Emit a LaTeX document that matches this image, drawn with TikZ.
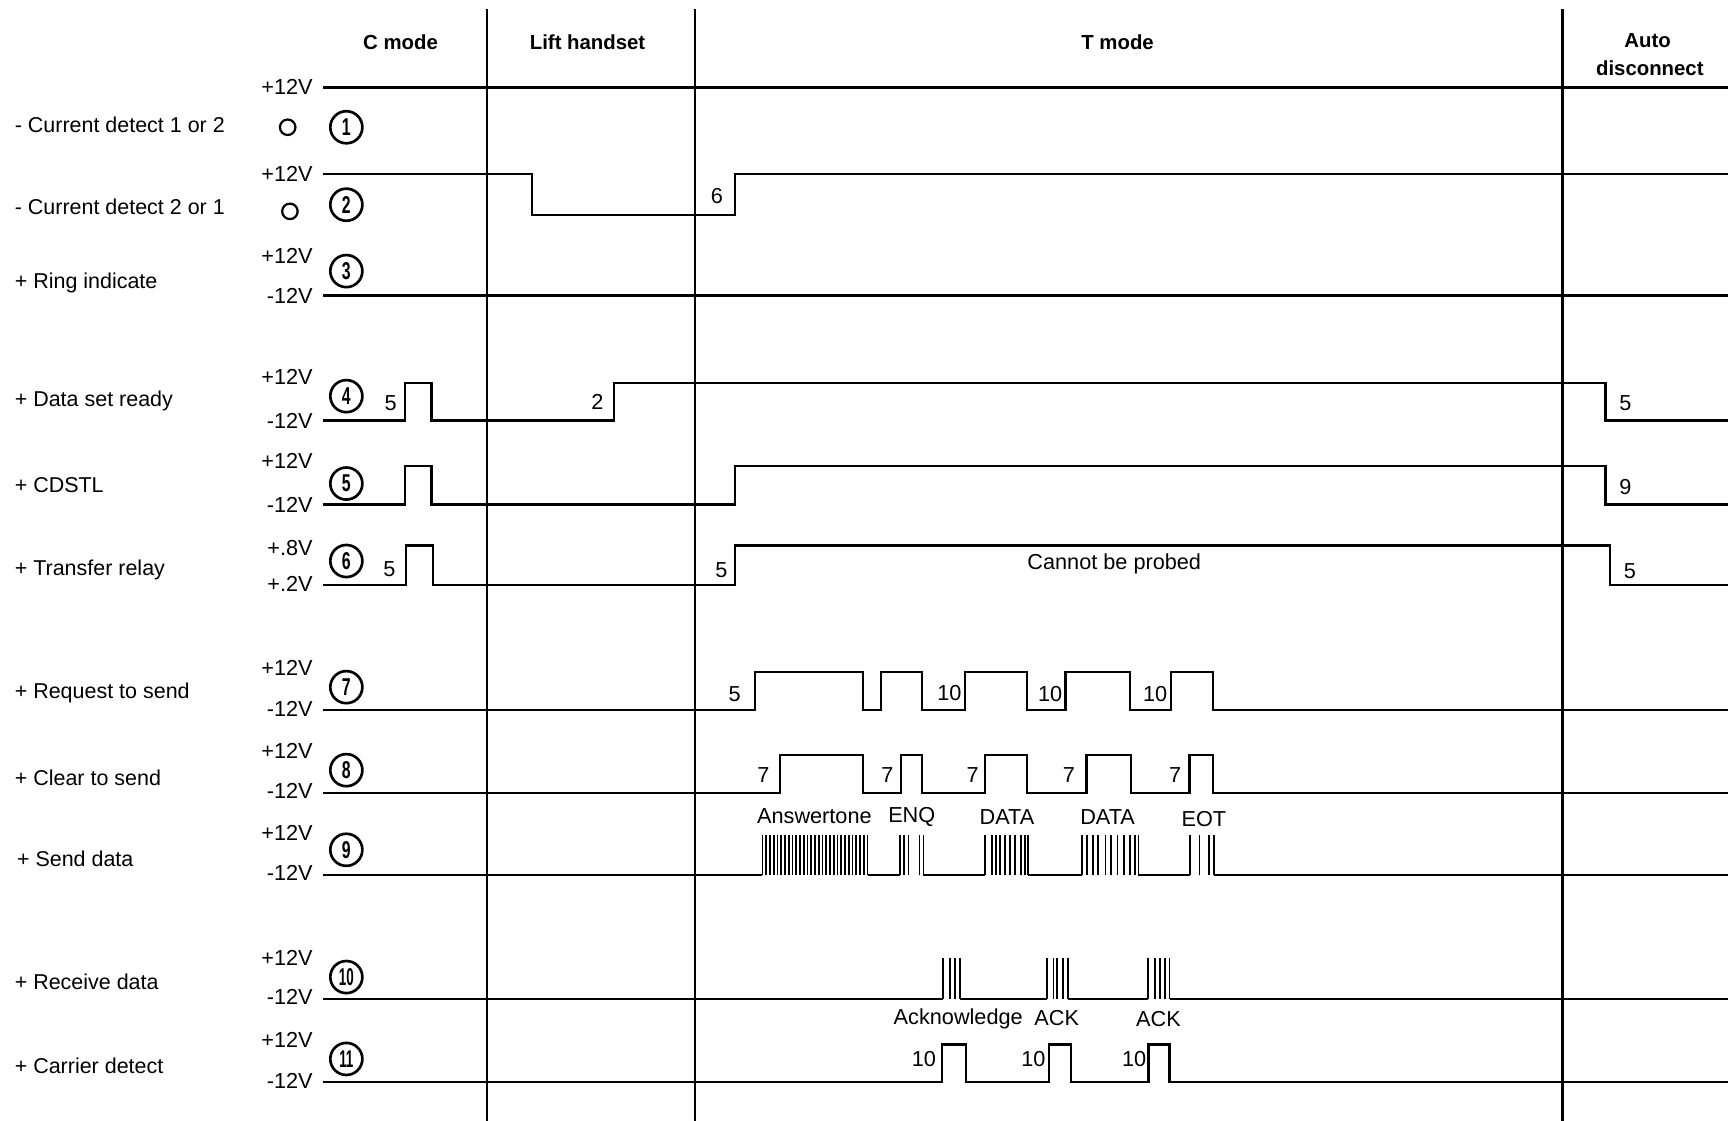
\documentclass[tikz,border=0pt]{standalone}
\usepackage{fontspec}
\usepackage{graphicx}
\setmainfont{Liberation Sans}
\begin{document}
\begin{tikzpicture}[x=0.5pt,y=-0.5pt,
  sig/.style={line width=1pt, line join=miter},
  sep/.style={line width=1.1pt},
  burst/.style={line width=0.8pt},
  lbl/.style={anchor=west, font=\fontsize{9.7}{11}\selectfont, inner sep=0pt},
  volt/.style={anchor=east, font=\fontsize{9.8}{11}\selectfont, inner sep=0pt},
  num/.style={font=\fontsize{9.8}{11}\selectfont, inner sep=0pt},
  hdr/.style={font=\bfseries\fontsize{9.2}{11}\selectfont, inner sep=0pt},
  cnum/.style={circle, draw, line width=1.2pt, minimum size=14.5pt, inner sep=0pt, font=\bfseries\fontsize{11}{12}\selectfont},
  ring/.style={circle, draw, line width=1pt, minimum size=7pt, inner sep=0pt}]

\useasboundingbox (0,0) rectangle (1568,1013);

% separators
\draw[sep] (440,8) -- (440,1013);
\draw[sep] (628,8) -- (628,1013);
\draw[sep] (1412,8) -- (1412,1013);

% headers
\node[hdr] (hC) at (362,38) {C mode};
\node[hdr] (hL) at (531,38) {Lift handset};
\node[hdr] (hT) at (1010,38) {T mode};
\node[hdr] (hA1) at (1489,37) {Auto};
\node[hdr] (hA2) at (1491,62) {disconnect};

% signal names
\node[lbl] (n1) at (13,113) {- Current detect 1 or 2};
\node[lbl] (n2) at (13,187) {- Current detect 2 or 1};
\node[lbl] (n3) at (13,256) {+ Ring indicate};
\node[lbl] (n4) at (13,362) {+ Data set ready};
\node[lbl] (n5) at (13,438) {+ CDSTL};
\node[lbl] (n6) at (13,515) {+ Transfer relay};
\node[lbl] (n7) at (13,626) {+ Request to send};
\node[lbl] (n8) at (13,703) {+ Clear to send};
\node[lbl] (n9) at (15,776) {+ Send data};
\node[lbl] (n10) at (13,887) {+ Receive data};
\node[lbl] (n11) at (13,963) {+ Carrier detect};

% rings
\node[ring] (o1) at (260,115) {};
\node[ring] (o2) at (262,191) {};

% voltage labels
\node[volt] (v1) at (283,79) {+12V};
\node[volt] (v2) at (283,157) {+12V};
\node[volt] (v3h) at (283,231) {+12V};
\node[volt] (v3l) at (283,267) {-12V};
\node[volt] (v4h) at (283,341) {+12V};
\node[volt] (v4l) at (283,380) {-12V};
\node[volt] (v5h) at (283,417) {+12V};
\node[volt] (v5l) at (283,456) {-12V};
\node[volt] (v6h) at (283,495) {+.8V};
\node[volt] (v6l) at (283,528) {+.2V};
\node[volt] (v7h) at (283,604) {+12V};
\node[volt] (v7l) at (283,641) {-12V};
\node[volt] (v8h) at (283,679) {+12V};
\node[volt] (v8l) at (283,715) {-12V};
\node[volt] (v9h) at (283,753) {+12V};
\node[volt] (v9l) at (283,789) {-12V};
\node[volt] (v10h) at (283,866) {+12V};
\node[volt] (v10l) at (283,901) {-12V};
\node[volt] (v11h) at (283,940) {+12V};
\node[volt] (v11l) at (283,977) {-12V};

% circled numbers
\node[cnum] (c1) at (313,115) {\scalebox{0.65}[1]{1}};
\node[cnum] (c2) at (313,185) {\scalebox{0.65}[1]{2}};
\node[cnum] (c3) at (313,245) {\scalebox{0.65}[1]{3}};
\node[cnum] (c4) at (313,358) {\scalebox{0.65}[1]{4}};
\node[cnum] (c5) at (313,437) {\scalebox{0.65}[1]{5}};
\node[cnum] (c6) at (313,507) {\scalebox{0.65}[1]{6}};
\node[cnum] (c7) at (313,621) {\scalebox{0.65}[1]{7}};
\node[cnum] (c8) at (313,696) {\scalebox{0.65}[1]{8}};
\node[cnum] (c9) at (313,768) {\scalebox{0.65}[1]{9}};
\node[cnum] (c10) at (313,883) {\scalebox{0.55}[1]{10}};
\node[cnum] (c11) at (313,957) {\scalebox{0.55}[1]{11}};

% row 1
\draw[sig] (292,79) -- (1562,79);
% row 2
\draw[sig] (292,157) -- (481,157) -- (481,194) -- (664,194) -- (664,157) -- (1562,157);
% row 3
\draw[sig] (292,267) -- (1562,267);
% row 4
\draw[sig] (292,380) -- (366,380) -- (366,346) -- (390,346) -- (390,380) -- (555,380) -- (555,346) -- (1451,346) -- (1451,380) -- (1562,380);
% row 5
\draw[sig] (292,456) -- (366,456) -- (366,421) -- (390,421) -- (390,456) -- (664,456) -- (664,421) -- (1451,421) -- (1451,456) -- (1562,456);
% row 6
\draw[sig] (292,529) -- (367,529) -- (367,493) -- (391,493) -- (391,529) -- (664,529) -- (664,493) -- (1455,493) -- (1455,529) -- (1562,529);
% row 7
\draw[sig] (292,642) -- (682,642) -- (682,607) -- (780,607) -- (780,642) -- (796,642) -- (796,607) -- (833,607) -- (833,642) -- (872,642) -- (872,607) -- (928,607) -- (928,642) -- (963,642) -- (963,607) -- (1021,607) -- (1021,642) -- (1058,642) -- (1058,607) -- (1096,607) -- (1096,642) -- (1562,642);
% row 8
\draw[sig] (292,717) -- (705,717) -- (705,682) -- (780,682) -- (780,717) -- (814,717) -- (814,682) -- (833,682) -- (833,717) -- (890,717) -- (890,682) -- (928,682) -- (928,717) -- (982,717) -- (982,682) -- (1022,682) -- (1022,717) -- (1075,717) -- (1075,682) -- (1096,682) -- (1096,717) -- (1562,717);
% row 9 (send data bursts)
\draw[sig] (292,791) -- (689,791);
\foreach \i in {0,...,28} \draw[burst] ({689+\i*3.393},791) -- ++(0,-36);
\draw[sig] (784,791) -- (813.4,791);
\foreach \x in {813.4,817,821,831,834.5} \draw[burst] (\x,791) -- (\x,755);
\draw[sig] (834.5,791) -- (890.2,791);
\foreach \x in {890.2,896.2,900.1,903.8,908.2,912.7,917.3,922.4,926.3,929.3} \draw[burst] (\x,791) -- (\x,755);
\draw[sig] (929.3,791) -- (977.6,791);
\foreach \x in {977.6,982.6,987.6,992.6,999,1004,1010,1016,1021,1026,1028.8} \draw[burst] (\x,791) -- (\x,755);
\draw[sig] (1028.8,791) -- (1075.6,791);
\foreach \x in {1075.6,1084,1092.3,1097.3} \draw[burst] (\x,791) -- (\x,755);
\draw[sig] (1097.3,791) -- (1562,791);
% row 10 (receive data bursts)
\draw[sig] (292,903) -- (852.5,903);
\foreach \x in {852.5,858.6,863.1,867.6} \draw[burst] (\x,903) -- (\x,866);
\draw[sig] (867.6,903) -- (945.9,903);
\foreach \x in {945.9,952,955,961,965.5} \draw[burst] (\x,903) -- (\x,866);
\draw[sig] (965.5,903) -- (1037.8,903);
\foreach \x in {1037.8,1043.8,1048.4,1052.9,1057} \draw[burst] (\x,903) -- (\x,866);
\draw[sig] (1057,903) -- (1562,903);
% row 11
\draw[sig] (292,978) -- (851,978) -- (851,944) -- (873,944) -- (873,978) -- (948,978) -- (948,944) -- (968,944) -- (968,978) -- (1038,978) -- (1038,944) -- (1057,944) -- (1057,978) -- (1562,978);

% timing numbers
\node[num] (t2a) at (648,177) {6};
\node[num] (t4a) at (353,364) {5};
\node[num] (t4b) at (540,363) {2};
\node[num] (t4c) at (1469,364) {5};
\node[num] (t5a) at (1469,440) {9};
\node[num] (t6a) at (352,514) {5};
\node[num] (t6b) at (652,515) {5};
\node[num] (t6c) at (1473,516) {5};
\node[num] (t7a) at (664,627) {5};
\node[num] (t7b) at (858,626) {10};
\node[num] (t7c) at (949,627) {10};
\node[num] (t7d) at (1044,627) {10};
\node[num] (t8a) at (690,700) {7};
\node[num] (t8b) at (802,700) {7};
\node[num] (t8c) at (879,700) {7};
\node[num] (t8d) at (966,700) {7};
\node[num] (t8e) at (1062,700) {7};
\node[num] (t11a) at (835,957) {10};
\node[num] (t11b) at (934,957) {10};
\node[num] (t11c) at (1025,957) {10};

% data labels
\node[num] (d1) at (736,738) {Answertone};
\node[num] (d2) at (824,738) {ENQ};
\node[num] (d3) at (910,738) {DATA};
\node[num] (d4) at (1001,738) {DATA};
\node[num] (d5) at (1088,740) {EOT};
\node[num] (a1) at (866,921) {Acknowledge};
\node[num] (a2) at (955,920) {ACK};
\node[num] (a3) at (1047,921) {ACK};
\node[num] (cbp) at (1007,510) {Cannot be probed};
\end{tikzpicture}
\end{document}
